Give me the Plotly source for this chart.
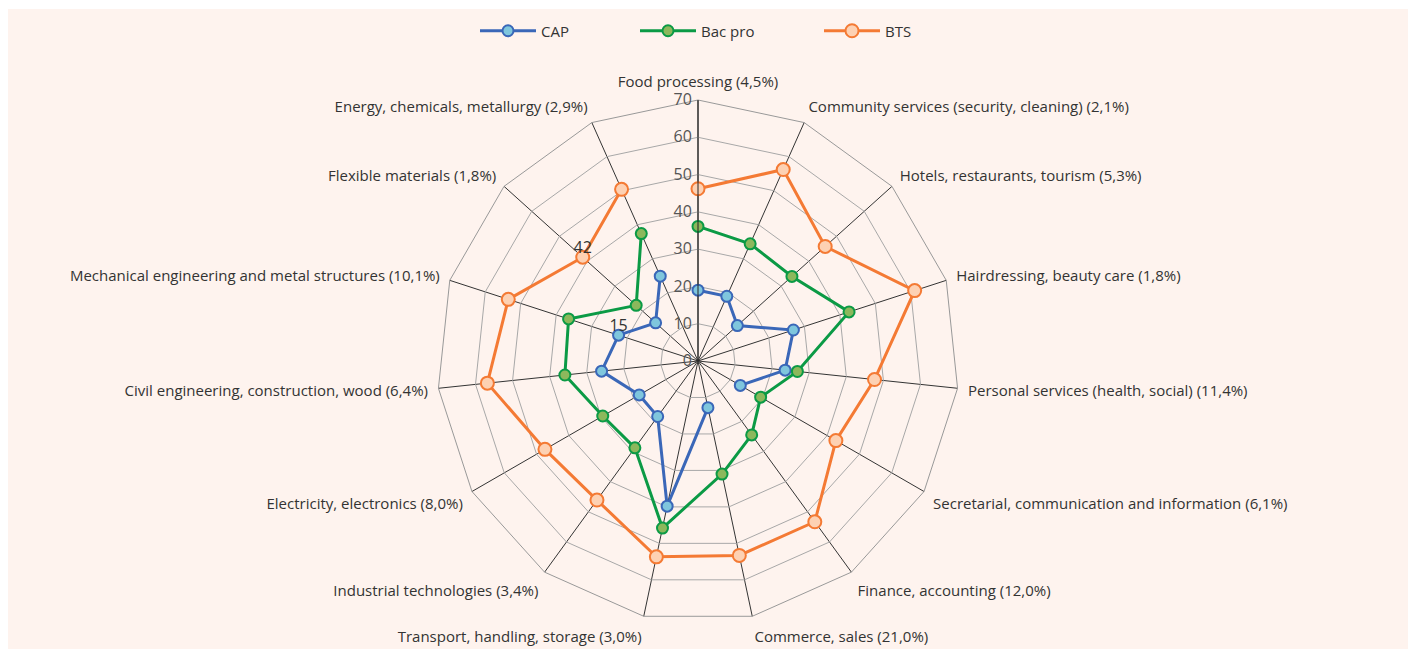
import plotly.graph_objects as go

categories = [
    "Food processing (4,5%)",
    "Community services (security, cleaning) (2,1%)",
    "Hotels, restaurants, tourism (5,3%)",
    "Hairdressing, beauty care (1,8%)",
    "Personal services (health, social) (11,4%)",
    "Secretarial, communication and information (6,1%)",
    "Finance, accounting (12,0%)",
    "Commerce, sales (21,0%)",
    "Transport, handling, storage (3,0%)",
    "Industrial technologies (3,4%)",
    "Electricity, electronics (8,0%)",
    "Civil engineering, construction, wood (6,4%)",
    "Mechanical engineering and metal structures (10,1%)",
    "Flexible materials (1,8%)",
    "Energy, chemicals, metallurgy (2,9%)",
]

cap = [19, 19, 14.2, 26.9, 23.5, 13.1, None, 12.8, 39.8, 18.4, 18.2, 26, 22.4, 15.3, 24.9]
bac_pro = [36.1, 34.4, 33.9, 42.6, 26.8, 19.4, 24.5, 31.0, 45.8, 28.8, 29.5, 35.9, 36.5, 22.3, 37.4]
bts = [46.2, 56.2, 45.9, 61.1, 47.6, 42.7, 53.3, 53.3, 53.7, 46.1, 47.4, 56.8, 53.5, 41.6, 50.4]

cap_labels = ["", "", "", "", "", "", "", "", "", "", "", "", "15", "", ""]
bts_labels = ["", "", "", "", "", "", "", "", "", "", "", "", "", "42", ""]

radial_ticks = [0, 10, 20, 30, 40, 50, 60, 70]

FONT = "Open Sans"
W, H = 1416, 653
DX, DY = 8, 7  # page offset compensation

series = [
    ("CAP", cap, "#3a67b8", "#7fc6dd", 11, "legend"),
    ("Bac pro", bac_pro, "#0b9a45", "#8cb85c", 11, "legend2"),
    ("BTS", bts, "#f47a34", "#fdd1b3", 13, "legend3"),
]

fig = go.Figure()
for name, vals, lc, fc, ms, lg in series:
    fig.add_trace(go.Scatterpolar(
        r=vals, theta=categories, name=name, mode="lines+markers",
        line=dict(color=lc, width=3),
        marker=dict(size=ms, color=fc, line=dict(color=lc, width=2)),
        connectgaps=False, legend=lg,
    ))

for vals, labels in [(cap, cap_labels), (bts, bts_labels)]:
    fig.add_trace(go.Scatterpolar(
        r=vals, theta=categories, text=labels, mode="text",
        textposition="top center", showlegend=False,
        textfont=dict(size=16, color="#333333", family=FONT),
        hoverinfo="skip",
    ))

fig.update_layout(
    width=W, height=H,
    margin=dict(l=0, r=0, t=0, b=0, autoexpand=False),
    paper_bgcolor="white",
    font=dict(family=FONT, size=15, color="#333333"),
    shapes=[dict(type="rect", xref="paper", yref="paper",
                 x0=(5 - DX) / W, x1=(1410 - DX) / W,
                 y0=1 - (648 - DY) / H, y1=1 - (8 - DY) / H,
                 fillcolor="#fef3ee", line=dict(width=0), layer="below")],
    polar=dict(
        bgcolor="rgba(0,0,0,0)",
        domain=dict(x=[(437 - DX) / W, (959 - DX) / W], y=[(32 + DY) / H, (554 + DY) / H]),
        gridshape="linear",
        angularaxis=dict(
            direction="clockwise", rotation=90,
            gridcolor="#333333", gridwidth=1,
            linecolor="#999999", linewidth=1,
            ticks="outside", ticklen=7, tickcolor="rgba(0,0,0,0)",
            tickfont=dict(size=15, color="#333333", family=FONT),
        ),
        radialaxis=dict(
            range=[0, 70], tickvals=radial_ticks, angle=90, tickangle=90,
            side="counterclockwise",
            gridcolor="#a8a8a8", gridwidth=1,
            showline=True, linecolor="#222222", linewidth=1,
            ticks="", tickfont=dict(size=16, color="#555555", family=FONT),
        ),
    ),
)

legend_common = dict(orientation="h", yanchor="middle", y=1 - (30 - DY) / H, xanchor="left",
                     bgcolor="rgba(0,0,0,0)", itemwidth=56,
                     font=dict(size=15, color="#333333", family=FONT))
fig.update_layout(
    legend=dict(x=(475 - DX) / W, **legend_common),
    legend2=dict(x=(635 - DX) / W, **legend_common),
    legend3=dict(x=(819 - DX) / W, **legend_common),
)

fig.write_html("out.html")
